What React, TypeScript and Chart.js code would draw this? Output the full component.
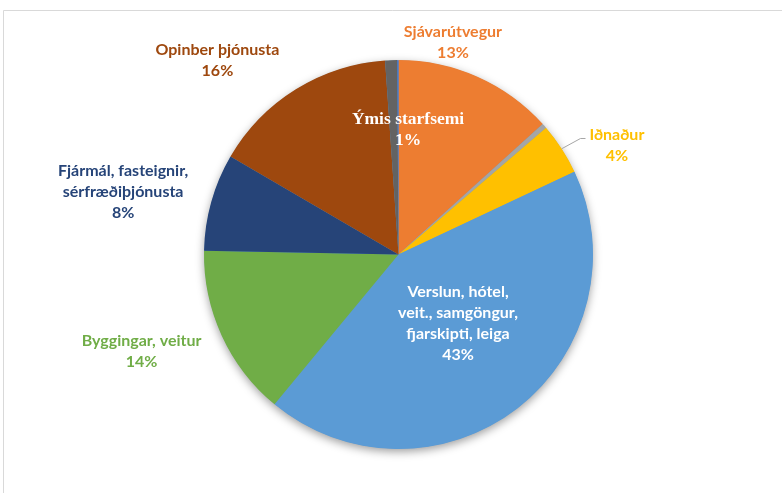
import React, { useEffect, useRef } from "react";
import { Chart, registerables } from "chart.js";

Chart.register(...registerables);

// ---- data ----
const CATEGORIES = [
  "Sjávarútvegur",
  "Annað",
  "Iðnaður",
  "Verslun, hótel, veit., samgöngur, fjarskipti, leiga",
  "Byggingar, veitur",
  "Fjármál, fasteignir, sérfræðiþjónusta",
  "Opinber þjónusta",
  "Ýmis starfsemi",
  "Óskilgreint",
];
const LABEL_LINES: string[][] = [
  ["Sjávarútvegur"],
  [],
  ["Iðnaður"],
  ["Verslun, hótel,", "veit., samgöngur,", "fjarskipti, leiga"],
  ["Byggingar, veitur"],
  ["Fjármál, fasteignir,", "sérfræðiþjónusta"],
  ["Opinber þjónusta"],
  ["Ýmis starfsemi"],
  [],
];
const SHARES = [13.3, 0.4, 4.3, 43.0, 14.3, 8.1, 15.5, 1.0, 0.1];
const COLORS = [
  "#ED7D31",
  "#A5A5A5",
  "#FFC000",
  "#5B9BD5",
  "#70AD47",
  "#264478",
  "#9E480E",
  "#636363",
  "#4472C4",
];

// ---- label styling / layout (radius units relative to pie centre) ----
const LABEL_COLORS = ["#ED7D31", "", "#FFC000", "#FFFFFF", "#70AD47", "#264478", "#9E480E", "#FFFFFF", ""];
const LABEL_POS: [number, number][] = [
  [0.28, -1.09],
  [0, 0],
  [1.123, -0.563],
  [0.306, 0.355],
  [-1.321, 0.5],
  [-1.416, -0.324],
  [-0.931, -1.0],
  [0.049, -0.64],
  [0, 0],
];
const LABEL_SERIF = [false, false, false, false, false, false, false, true, false];
const LABEL_LEADER = [false, false, true, false, false, false, false, false, false];
const SANS = "bold 16px Lato, 'Open Sans', sans-serif";
const SERIF = "bold 17.5px 'Liberation Serif', 'DejaVu Serif', serif";
const LINE_H = 21;

const framePlugin = {
  id: "frame",
  beforeDraw(chart: any) {
    const { ctx, width, height } = chart;
    ctx.save();
    ctx.fillStyle = "#FFFFFF";
    ctx.fillRect(0, 0, width, height);
    ctx.strokeStyle = "#D9D9D9";
    ctx.lineWidth = 1;
    ctx.beginPath();
    ctx.moveTo(width, 10.5);
    ctx.lineTo(3.5, 10.5);
    ctx.lineTo(3.5, height);
    ctx.stroke();
    ctx.restore();
  },
};

const shadowPlugin = {
  id: "pieShadow",
  beforeDatasetsDraw(chart: any) {
    const meta = chart.getDatasetMeta(0);
    if (!meta.data.length) return;
    const { x, y, outerRadius } = meta.data[0].getProps(["x", "y", "outerRadius"], true);
    const ctx = chart.ctx;
    ctx.save();
    ctx.shadowColor = "rgba(0,0,0,0.4)";
    ctx.shadowBlur = 10;
    ctx.shadowOffsetX = 0;
    ctx.shadowOffsetY = 3;
    ctx.fillStyle = "#5B9BD5";
    ctx.beginPath();
    ctx.arc(x, y, outerRadius - 0.5, 0, Math.PI * 2);
    ctx.fill();
    ctx.restore();
  },
};

const labelPlugin = {
  id: "sliceLabels",
  afterDatasetsDraw(chart: any) {
    const ctx = chart.ctx;
    const meta = chart.getDatasetMeta(0);
    const total = SHARES.reduce((a, b) => a + b, 0);
    meta.data.forEach((arc: any, i: number) => {
      const lines = LABEL_LINES[i];
      if (!lines.length) return;
      const { x, y, outerRadius, startAngle, endAngle } = arc.getProps(
        ["x", "y", "outerRadius", "startAngle", "endAngle"],
        true
      );
      const [fx, fy] = LABEL_POS[i];
      const cx = x + fx * outerRadius;
      const cy = y + fy * outerRadius;
      const all = [...lines, Math.round((SHARES[i] / total) * 100) + "%"];
      ctx.save();
      ctx.font = LABEL_SERIF[i] ? SERIF : SANS;
      ctx.fillStyle = LABEL_COLORS[i];
      ctx.textAlign = "center";
      ctx.textBaseline = "middle";
      const top = cy - ((all.length - 1) * LINE_H) / 2;
      all.forEach((t, k) => ctx.fillText(t, cx, top + k * LINE_H));
      if (LABEL_LEADER[i]) {
        const w = Math.max(...all.map((t) => ctx.measureText(t).width));
        const left = cx - w / 2;
        const mid = (startAngle + endAngle) / 2;
        const sx = x + Math.cos(mid) * outerRadius;
        const sy = y + Math.sin(mid) * outerRadius;
        ctx.strokeStyle = "#A6A6A6";
        ctx.lineWidth = 1;
        ctx.beginPath();
        ctx.moveTo(sx, sy);
        ctx.lineTo(left - 9, top + 4);
        ctx.lineTo(left - 4, top + 4);
        ctx.stroke();
      }
      ctx.restore();
    });
  },
};

export default function App() {
  const ref = useRef<HTMLCanvasElement>(null);
  useEffect(() => {
    if (!ref.current) return;
    const chart = new Chart(ref.current, {
      type: "pie",
      data: {
        labels: CATEGORIES,
        datasets: [
          {
            data: SHARES,
            backgroundColor: COLORS,
            borderWidth: 0,
            hoverOffset: 0,
            offset: 0,
          },
        ],
      },
      options: {
        responsive: false,
        maintainAspectRatio: false,
        animation: false,
        events: [],
        layout: { padding: { top: 60, bottom: 44, left: 204, right: 189 } },
        plugins: {
          legend: { display: false },
          tooltip: { enabled: false },
        },
      },
      plugins: [framePlugin, shadowPlugin, labelPlugin],
    });
    return () => chart.destroy();
  }, []);
  return (
    <div style={{ position: "absolute", left: 0, top: 0, width: 782, height: 493 }}>
      <canvas ref={ref} width={782} height={493} style={{ display: "block" }} />
    </div>
  );
}
